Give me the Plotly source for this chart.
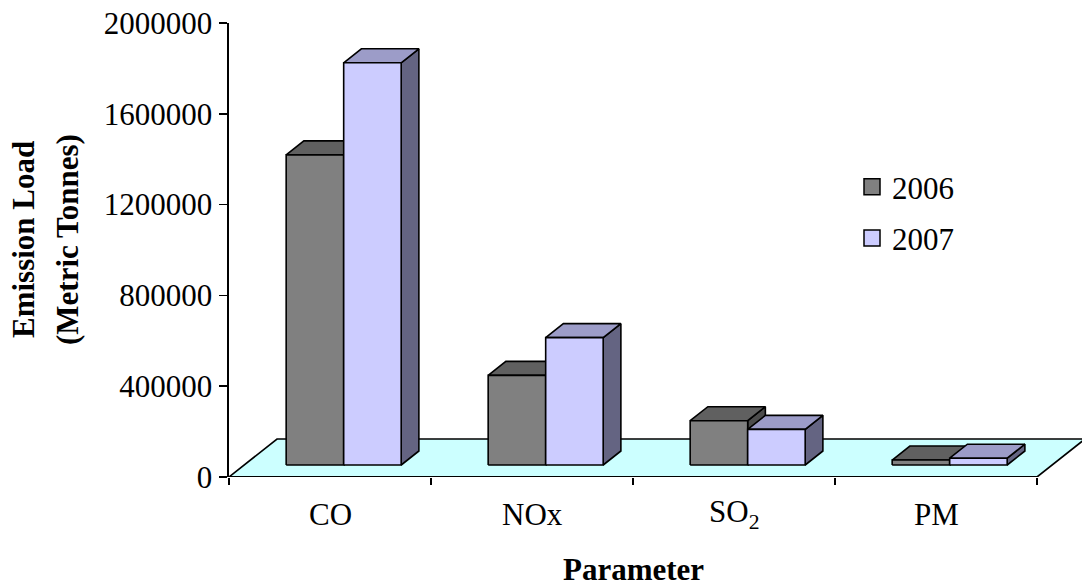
import plotly.graph_objects as go

# ---------------- data ----------------
categories = ["CO", "NOx", "SO<sub>2</sub>", "PM"]
series_names = ["2006", "2007"]
values_2006 = [1366000, 395000, 195000, 22000]
values_2007 = [1772000, 561000, 157000, 30000]
y_tick_values = [0, 400000, 800000, 1200000, 1600000, 2000000]
y_tick_labels = ["0", "400000", "800000", "1200000", "1600000", "2000000"]
y_title_lines = ["Emission Load", "(Metric Tonnes)"]
x_title = "Parameter"

# ---------------- style / geometry ----------------
FONT = "Liberation Serif"
FS = 31
W, H = 1082, 586
ML, MR, MT, MB = 229, 0, 23, 109
PLOT_W = W - ML - MR
PLOT_H = H - MT - MB
N = len(categories)
PX_PER_CAT = 202.0
X_MAX = PLOT_W / PX_PER_CAT
Y_MAX = 2000000
PX_PER_VAL = PLOT_H / Y_MAX

# depth vector of the floor (in data units)
DX = 48 / PX_PER_CAT
DY = 38 / PX_PER_VAL
F0, F1 = 12 / 38, 26 / 38   # bar front / back as fraction of floor depth
SLOT_LEFT = 0.208
BAR_W = 0.2847

colors = {
    "2006": dict(front="#808080", top="#606060", side="#4c4c4c"),
    "2007": dict(front="#CCCCFF", top="#9C9CC8", side="#646482"),
}
EDGE = dict(color="black", width=1.6)

fig = go.Figure()


def poly(xs, ys, fill):
    fig.add_trace(go.Scatter(
        x=list(xs) + [xs[0]], y=list(ys) + [ys[0]],
        mode="lines", fill="toself", fillcolor=fill, line=EDGE,
        hoverinfo="skip", showlegend=False))


# floor
poly([0, N, N + DX, DX], [0, 0, DY, DY], "#CCFFFF")

# bars (painter's order)
series = [("2006", values_2006), ("2007", values_2007)]
for i in range(N):
    for k, (name, vals) in enumerate(series):
        v = vals[i]
        c = colors[name]
        x0 = i + SLOT_LEFT + k * BAR_W + F0 * DX
        x1 = x0 + BAR_W
        yb = F0 * DY
        yt = yb + v
        ddx = (F1 - F0) * DX
        ddy = (F1 - F0) * DY
        # side
        poly([x1, x1 + ddx, x1 + ddx, x1], [yb, yb + ddy, yt + ddy, yt], c["side"])
        # top
        poly([x0, x1, x1 + ddx, x0 + ddx], [yt, yt, yt + ddy, yt + ddy], c["top"])
        # front
        poly([x0, x1, x1, x0], [yb, yb, yt, yt], c["front"])

# legend entries
for name in series_names:
    fig.add_trace(go.Scatter(
        x=[None], y=[None], mode="markers", name=name, legendgroup=name,
        marker=dict(symbol="square", size=16, color=colors[name]["front"],
                    line=dict(color="black", width=1.5))))


def py(pix):  # pixel row -> paper y
    return (H - MB - pix) / PLOT_H


def px(pix):  # pixel column -> paper x
    return (pix - ML) / PLOT_W


txt_font = dict(family=FONT, size=FS, color="black")
annotations = []
for i, cat in enumerate(categories):
    annotations.append(dict(x=i + 0.5, xref="x", y=py(514), yref="paper",
                            text=cat, showarrow=False, xanchor="center", yanchor="middle",
                            font=txt_font))
annotations.append(dict(x=N / 2, xref="x", y=py(569), yref="paper",
                        text="<b>%s</b>" % x_title, showarrow=False,
                        xanchor="center", yanchor="middle", font=txt_font))
for line_text, cx in zip(y_title_lines, [23, 67]):
    annotations.append(dict(x=px(cx), xref="paper", y=py(240), yref="paper",
                            text="<b>%s</b>" % line_text, showarrow=False,
                            textangle=-90, xanchor="center", yanchor="middle",
                            font=txt_font))

fig.update_layout(
    width=W, height=H,
    margin=dict(l=ML, r=MR, t=MT, b=MB, pad=0),
    paper_bgcolor="white", plot_bgcolor="white",
    font=txt_font,
    showlegend=True,
    legend=dict(x=px(852), y=py(160), xanchor="left", yanchor="top",
                bgcolor="rgba(0,0,0,0)", borderwidth=0, tracegroupgap=8,
                font=txt_font),
    xaxis=dict(range=[0, X_MAX], showgrid=False, zeroline=False, showline=False,
               tickmode="array", tickvals=list(range(N + 1)), showticklabels=False,
               ticks="outside", ticklen=7, tickwidth=1.6, tickcolor="black", fixedrange=True),
    yaxis=dict(range=[0, Y_MAX], showgrid=False, zeroline=False, showline=True,
               linecolor="black", linewidth=1.6,
               tickmode="array", tickvals=y_tick_values, ticktext=y_tick_labels,
               ticks="outside", ticklen=8, tickwidth=1.6, tickcolor="black",
               ticklabelstandoff=1,
               tickfont=txt_font, fixedrange=True),
    annotations=annotations,
    shapes=[dict(type="line", xref="x", yref="y", x0=0, x1=N, y0=0, y1=0,
                 line=dict(color="black", width=2), layer="above")],
)

fig.write_html("out.html",
               config={"displayModeBar": False, "staticPlot": True},
               post_script="document.body.style.margin='0';document.body.style.overflow='hidden';")
